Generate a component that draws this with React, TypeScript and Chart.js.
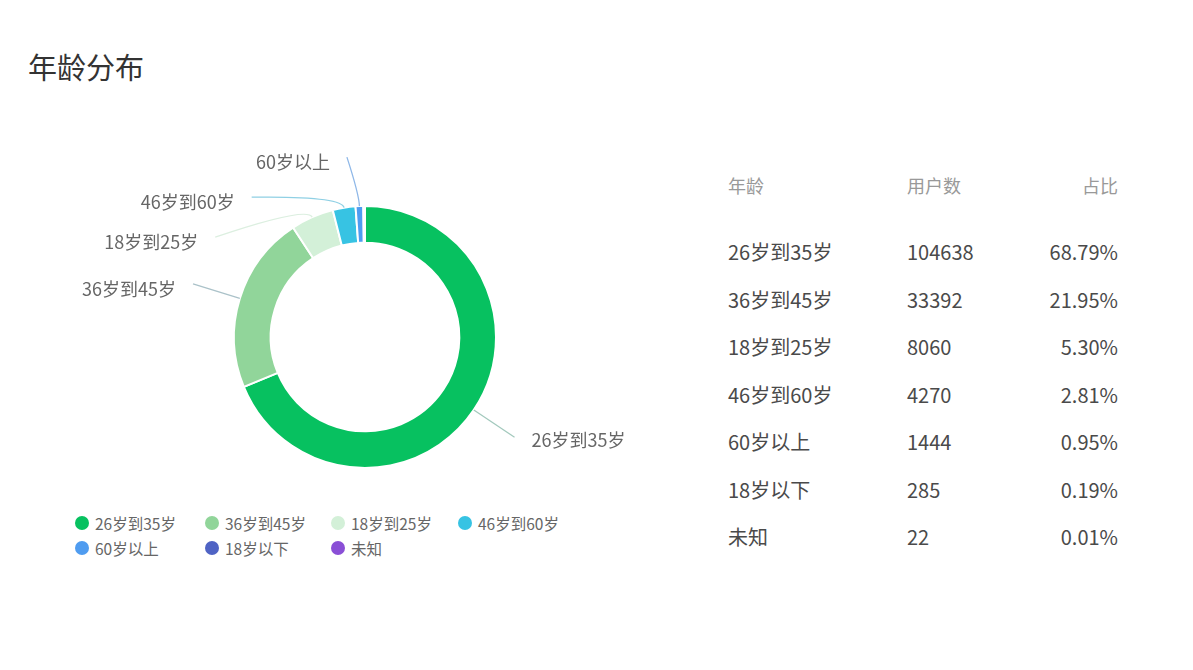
import { useEffect, useRef } from "react";
import { Chart, ArcElement, DoughnutController } from "chart.js";
import type { Plugin } from "chart.js";

Chart.register(ArcElement, DoughnutController);

const ageGroups = ["26岁到35岁", "36岁到45岁", "18岁到25岁", "46岁到60岁", "60岁以上", "18岁以下", "未知"];
const userCounts = [104638, 33392, 8060, 4270, 1444, 285, 22];
const shares = ["68.79%", "21.95%", "5.30%", "2.81%", "0.95%", "0.19%", "0.01%"];
const tableHeaders = ["年龄", "用户数", "占比"];

const sliceColors = ["#07c160", "#91d59a", "#d3f0d8", "#37c3e3", "#4f9cf0", "#4f63c4", "#8a4fd6"];
const lineColors = ["#a3c9bd", "#abc2c9", "#dcefe0", "#8fd0e4", "#8fb8e8", "#b0b0d8", "#c0a8e0"];

const FONT = '"Noto Sans CJK SC", "Microsoft YaHei", sans-serif';

// labels outside the ring, stacked per side so they never overlap
const outsideLabels: Plugin<"doughnut"> = {
  id: "outsideLabels",
  afterDatasetsDraw(chart) {
    const ctx = chart.ctx;
    const meta = chart.getDatasetMeta(0);
    const total = userCounts.reduce((a, b) => a + b, 0);
    const items: any[] = [];
    meta.data.forEach((el: any, i: number) => {
      if (userCounts[i] / total < 0.005) return;
      const { x, y, startAngle, endAngle, outerRadius } = el.getProps(
        ["x", "y", "startAngle", "endAngle", "outerRadius"],
        true
      );
      const mid = (startAngle + endAngle) / 2;
      const cos = Math.cos(mid);
      const sin = Math.sin(mid);
      items.push({ i, cx: x, cy: y, r: outerRadius, cos, sin, left: cos < 0, ty: y + sin * (outerRadius + 49) });
    });
    [true, false].forEach((left) => {
      const side = items.filter((d) => d.left === left).sort((a, b) => a.ty - b.ty);
      for (let k = 1; k < side.length; k++) side[k].ty = Math.max(side[k].ty, side[k - 1].ty + 40);
    });

    ctx.save();
    ctx.font = `18px ${FONT}`;
    ctx.textBaseline = "middle";
    items.forEach((d) => {
      const R = d.r + 49;
      const ax = d.cx + d.cos * d.r;
      const ay = d.cy + d.sin * d.r;
      const ex = d.cx + d.cos * (d.r + 12);
      const ey = d.cy + d.sin * (d.r + 12);
      const dy = d.ty - d.cy;
      const dx = Math.sqrt(Math.max(R * R - dy * dy, 0));
      let tx = d.left ? d.cx - dx : d.cx + dx;
      tx = d.left ? Math.min(tx, ex - 12) : Math.max(tx, ex + 12);

      ctx.strokeStyle = lineColors[d.i];
      ctx.lineWidth = 1.3;
      ctx.beginPath();
      ctx.moveTo(ax, ay);
      ctx.quadraticCurveTo(ex, ey, tx, d.ty);
      ctx.stroke();

      ctx.fillStyle = "#666";
      ctx.textAlign = d.left ? "right" : "left";
      ctx.fillText(ageGroups[d.i], d.left ? tx - 17 : tx + 17, d.ty + (d.left ? 5 : 3));
    });
    ctx.restore();
  },
};

const AgeDoughnut = () => {
  const canvasRef = useRef<HTMLCanvasElement | null>(null);
  const chartRef = useRef<Chart<"doughnut"> | null>(null);

  useEffect(() => {
    if (!canvasRef.current) return;
    chartRef.current?.destroy();
    chartRef.current = new Chart(canvasRef.current, {
      type: "doughnut",
      data: {
        labels: ageGroups,
        datasets: [
          {
            data: userCounts,
            backgroundColor: sliceColors,
            borderColor: "#fff",
            borderWidth: 2,
          },
        ],
      },
      options: {
        animation: false,
        responsive: true,
        maintainAspectRatio: false,
        cutout: "72%",
        layout: { padding: { top: 65, bottom: 11, left: 0, right: 0 } },
        events: [],
      },
      plugins: [outsideLabels],
    });
    return () => {
      chartRef.current?.destroy();
      chartRef.current = null;
    };
  }, []);

  return (
    <div style={{ position: "absolute", left: 60, top: 140, width: 610, height: 340 }}>
      <canvas ref={canvasRef}></canvas>
    </div>
  );
};

export default function App() {
  return (
    <div
      style={{
        position: "absolute",
        left: 0,
        top: 0,
        width: 1193,
        height: 670,
        background: "#fff",
        fontFamily: FONT,
        overflow: "hidden",
      }}
    >
      <div style={{ position: "absolute", left: 28, top: 46, fontSize: 29, lineHeight: "40px", color: "#333" }}>
        年龄分布
      </div>

      <AgeDoughnut />

      {/* legend */}
      <div
        style={{
          position: "absolute",
          left: 75,
          top: 514,
          display: "grid",
          gridTemplateColumns: "130px 126px 127px 130px",
          rowGap: 7,
        }}
      >
        {ageGroups.map((g, i) => (
          <div key={g} style={{ display: "flex", alignItems: "center", height: 18 }}>
            <span
              style={{
                width: 14,
                height: 14,
                borderRadius: "50%",
                background: sliceColors[i],
                marginRight: 6,
                flex: "none",
              }}
            />
            <span style={{ fontSize: 15.5, color: "#666", whiteSpace: "nowrap" }}>{g}</span>
          </div>
        ))}
      </div>

      {/* table */}
      <div style={{ position: "absolute", left: 728, top: 170, width: 390 }}>
        <div style={{ display: "flex", height: 30, alignItems: "center", fontSize: 18, color: "#999" }}>
          <div style={{ width: 179 }}>{tableHeaders[0]}</div>
          <div style={{ flex: 1 }}>{tableHeaders[1]}</div>
          <div style={{ textAlign: "right" }}>{tableHeaders[2]}</div>
        </div>
        <div style={{ marginTop: 28 }}>
          {ageGroups.map((g, i) => (
            <div
              key={g}
              style={{ display: "flex", height: 47.5, alignItems: "center", fontSize: 20, color: "#4a4a4a" }}
            >
              <div style={{ width: 179 }}>{g}</div>
              <div style={{ flex: 1 }}>{userCounts[i]}</div>
              <div style={{ textAlign: "right" }}>{shares[i]}</div>
            </div>
          ))}
        </div>
      </div>
    </div>
  );
}
